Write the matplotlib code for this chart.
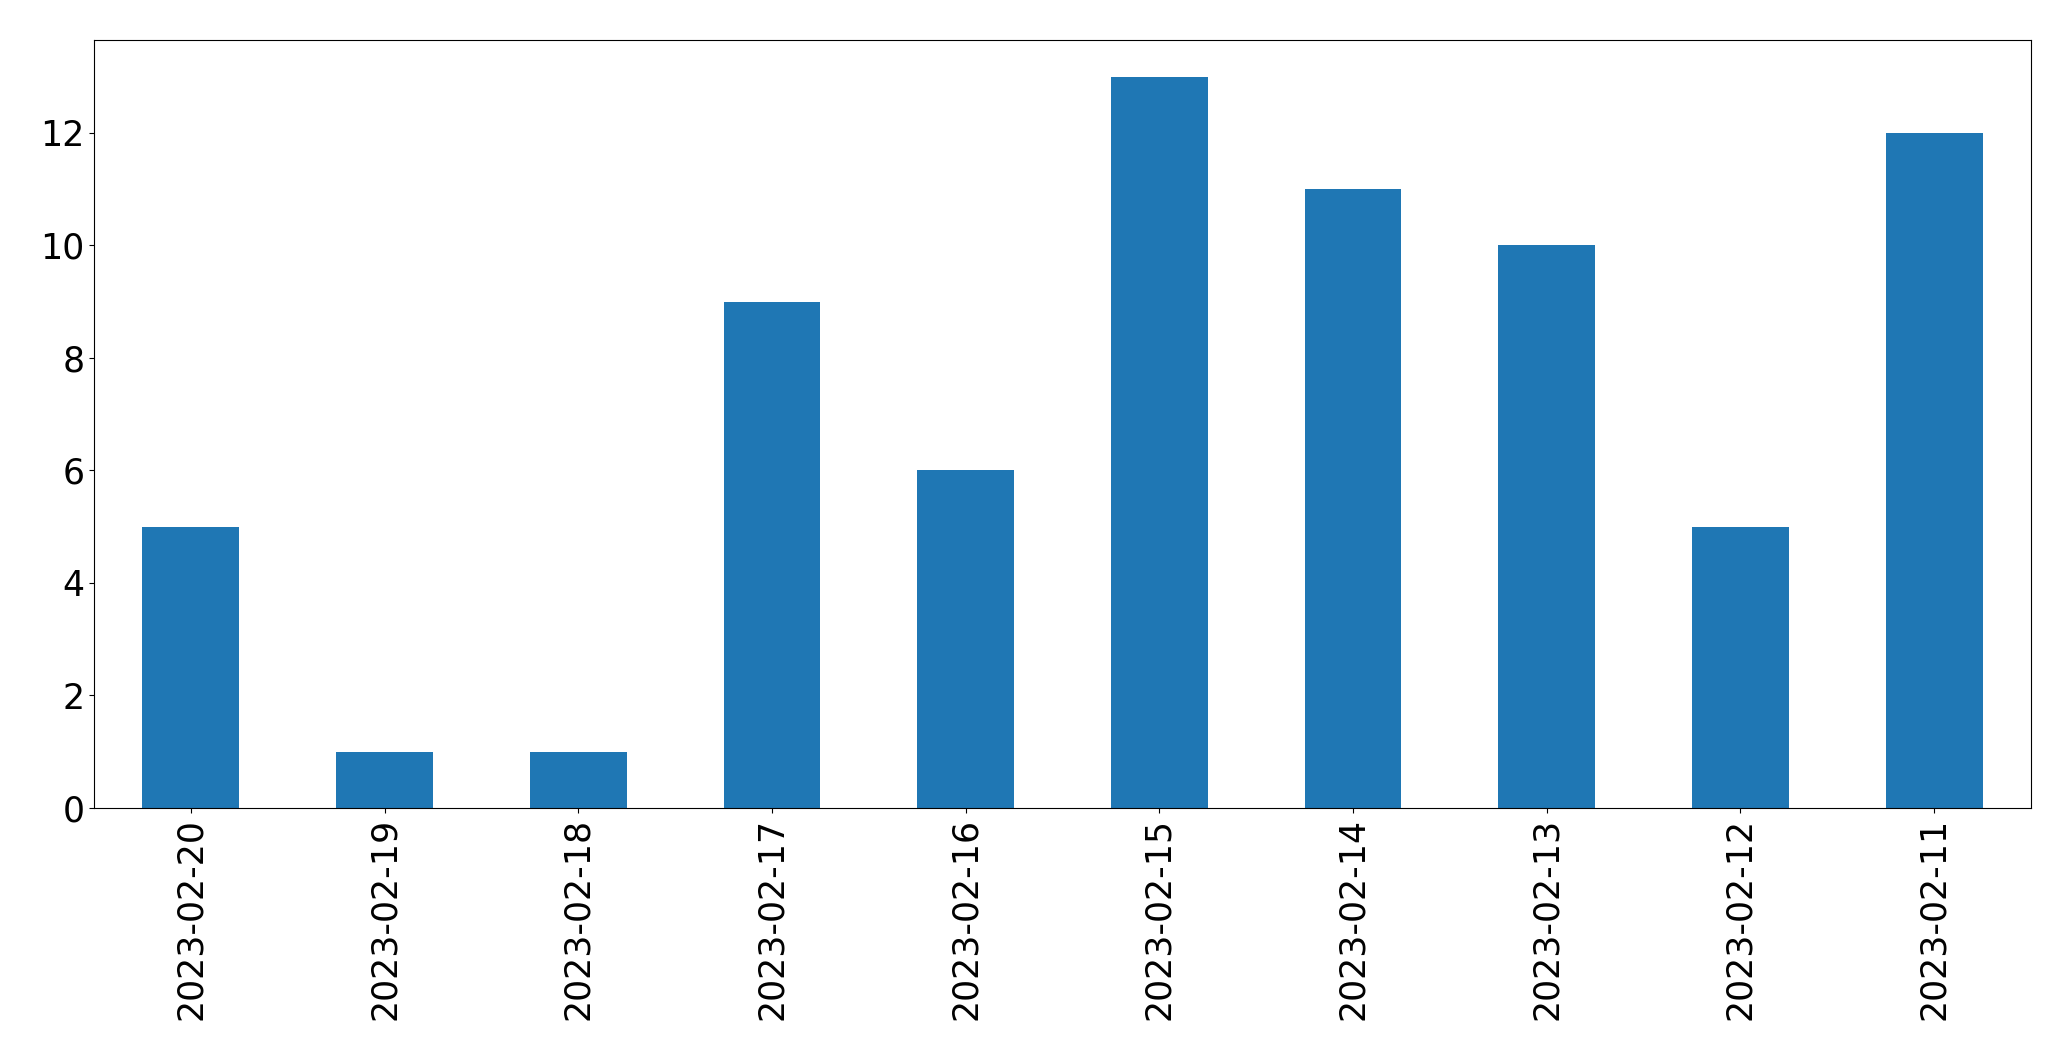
import matplotlib
matplotlib.use('Agg')
import matplotlib.pyplot as plt

# daily counts, in the order shown
dates = ['2023-02-20', '2023-02-19', '2023-02-18', '2023-02-17', '2023-02-16',
         '2023-02-15', '2023-02-14', '2023-02-13', '2023-02-12', '2023-02-11']
counts = [5, 1, 1, 9, 6, 13, 11, 10, 5, 12]

fig = plt.figure(figsize=(20.71, 10.61), dpi=100)
ax = fig.add_axes([94 / 2071, 1 - 808 / 1061, (2031 - 94) / 2071, (808 - 40) / 1061])
x = range(len(dates))
ax.bar(x, counts, width=0.5, color='#1f77b4')
ax.set_xlim(-0.5, len(dates) - 0.5)
ax.set_xticks(list(x))
ax.set_xticklabels(dates, rotation=90)
ax.tick_params(labelsize=25)
ax.set_yticks(range(0, 13, 2))
fig.savefig('out.png', dpi=100)
